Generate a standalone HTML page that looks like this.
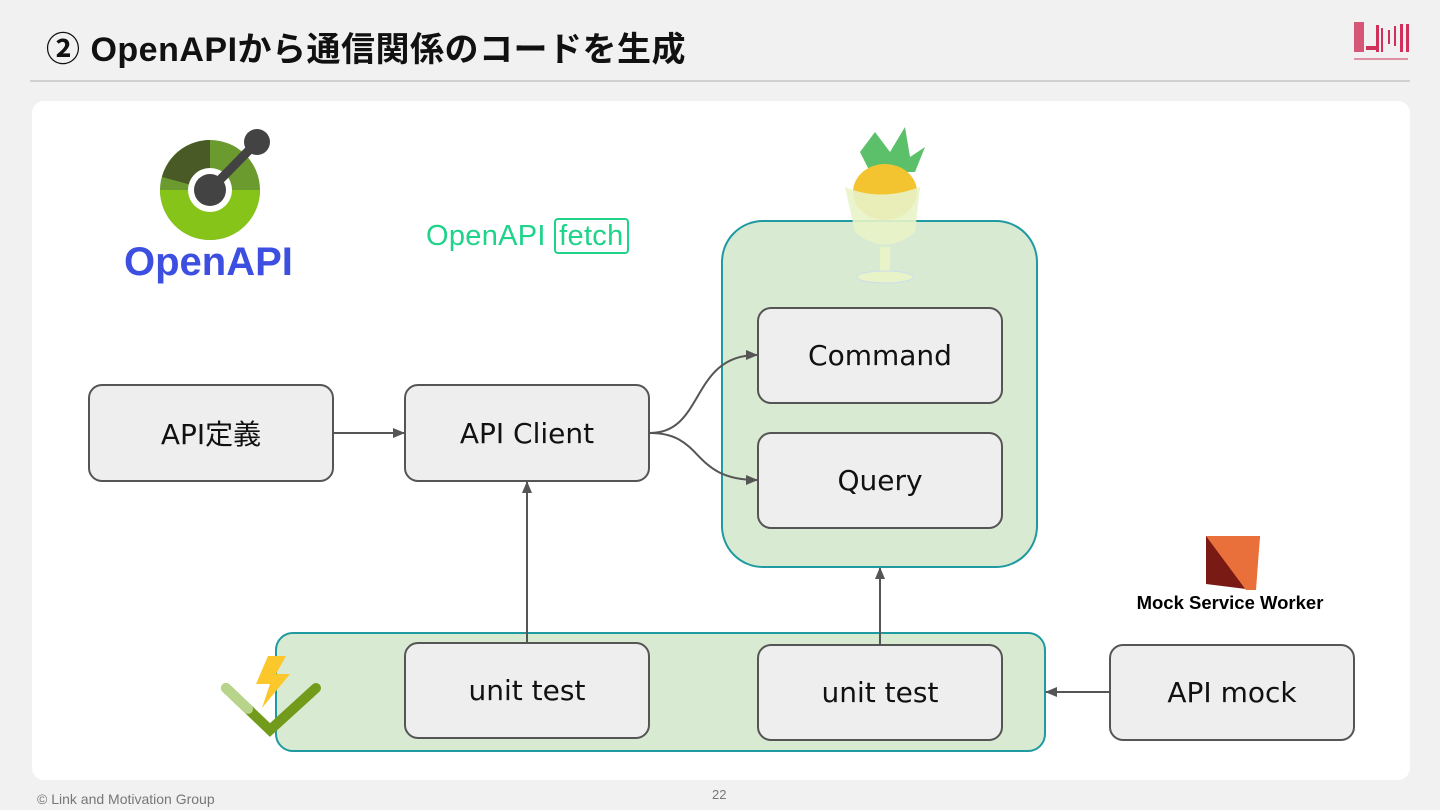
<!DOCTYPE html>
<html><head><meta charset="utf-8"><style>
body{margin:0;width:1440px;height:810px;background:#f1f1f1;overflow:hidden;font-family:"Liberation Sans","Noto Sans CJK JP",sans-serif;position:relative}
.t{position:absolute;left:46px;top:22px;font-size:34px;font-weight:bold;color:#111;letter-spacing:0.5px}
.box{position:absolute;background:#eeeeee;border:2px solid #555;border-radius:14px;box-sizing:border-box;display:flex;align-items:center;justify-content:center;font-size:28px;color:#111;font-family:"DejaVu Sans","Noto Sans CJK JP",sans-serif}
</style></head><body>
<div class="t">② OpenAPIから通信関係のコードを生成</div>
<div style="position:absolute;left:30px;top:80px;width:1380px;height:2px;background:#d0d0d0"></div>
<svg style="position:absolute;left:1350px;top:20px" width="62" height="48">
<g fill="#d0305a"><rect x="4" y="2" width="10" height="30" opacity=".8"/><rect x="16" y="26" width="12" height="4"/><rect x="26" y="5" width="3" height="27"/><rect x="31" y="8" width="2" height="24"/><rect x="38" y="10" width="2" height="14"/><rect x="44" y="6" width="2" height="20"/><rect x="50" y="4" width="3" height="28"/><rect x="56" y="4" width="3" height="28"/><rect x="4" y="38" width="54" height="2" opacity=".5"/></g></svg>
<div style="position:absolute;left:32px;top:101px;width:1378px;height:679px;background:#fff;border-radius:12px"></div>
<svg style="position:absolute;left:150px;top:125px" width="130" height="120">
<circle cx="60" cy="65" r="50" fill="#6b9a2f"/>
<path d="M10 65 A50 50 0 0 0 110 65 L60 65Z" fill="#86c41a"/>
<path d="M60 15 A50 50 0 0 0 12 52 L60 65Z" fill="#4a5a26"/>
<circle cx="60" cy="65" r="22" fill="#fff"/>
<line x1="60" y1="65" x2="107" y2="17" stroke="#434343" stroke-width="9"/>
<circle cx="107" cy="17" r="13" fill="#434343"/><circle cx="60" cy="65" r="16" fill="#434343"/>
</svg>
<div style="position:absolute;left:124px;top:240px;font-size:40px;font-weight:bold;color:#3d4fe0">OpenAPI</div>
<div style="position:absolute;left:426px;top:220px;font-size:29px;color:#1ed38a;letter-spacing:0.3px">OpenAPI <span style="border:2px solid #1ed38a;border-radius:4px;padding:0 3px">fetch</span></div>
<div style="position:absolute;left:721px;top:220px;width:317px;height:348px;background:#d9ead3;border:2px solid #1e9aa0;border-radius:42px;box-sizing:border-box"></div>
<div style="position:absolute;left:275px;top:632px;width:771px;height:120px;background:#d9ead3;border:2px solid #1e9aa0;border-radius:18px;box-sizing:border-box"></div>
<svg style="position:absolute;left:830px;top:122px" width="100" height="168">
<path d="M45 10 L60 30 L75 5 L80 35 L95 25 L85 50 L40 50 L30 30Z" fill="#5cbf6a"/>
<ellipse cx="55" cy="70" rx="32" ry="28" fill="#f4c430"/>
<path d="M15 65 Q50 80 90 65 L85 110 Q55 135 25 110Z" fill="#e8f3c8" opacity=".9"/>
<rect x="50" y="125" width="10" height="25" fill="#e8f3c8"/><ellipse cx="55" cy="155" rx="28" ry="6" fill="#e8f3c8" stroke="#cde" />
</svg>
<div class="box" style="left:88px;top:384px;width:246px;height:98px">API定義</div>
<div class="box" style="left:404px;top:384px;width:246px;height:98px">API Client</div>
<div class="box" style="left:757px;top:307px;width:246px;height:97px">Command</div>
<div class="box" style="left:757px;top:432px;width:246px;height:97px">Query</div>
<div class="box" style="left:404px;top:642px;width:246px;height:97px">unit test</div>
<div class="box" style="left:757px;top:644px;width:246px;height:97px">unit test</div>
<div class="box" style="left:1109px;top:644px;width:246px;height:97px">API mock</div>
<svg style="position:absolute;left:0;top:0" width="1440" height="810">
<defs><marker id="a" markerWidth="12" markerHeight="12" refX="11" refY="6" orient="auto" markerUnits="userSpaceOnUse"><path d="M0 1 L12 6 L0 11Z" fill="#555"/></marker></defs>
<g stroke="#555" stroke-width="2" fill="none" marker-end="url(#a)">
<line x1="334" y1="433" x2="404" y2="433"/>
<path d="M650 433 C705 433 690 355 757 355"/>
<path d="M650 433 C705 433 690 480 757 480"/>
<line x1="527" y1="642" x2="527" y2="482"/>
<line x1="880" y1="644" x2="880" y2="568"/>
<line x1="1109" y1="692" x2="1046" y2="692"/>
</g>
<path d="M226 688 L270 730 L316 688" stroke="#729b1b" stroke-width="10" fill="none" stroke-linecap="round"/>
<path d="M226 688 L248 709" stroke="#b8d48a" stroke-width="10" stroke-linecap="round"/>
<path d="M268 656 L256 684 L270 684 L262 708 L290 674 L276 674 L286 656Z" fill="#fcc72b"/>
<path d="M1206 536 L1260 536 L1254 590 L1206 584Z" fill="#7a1a14"/>
<path d="M1218 548 L1246 548 L1242 576Z" fill="#fff"/>
<path d="M1206 536 L1260 536 L1256 590 L1246 590 Z" fill="#e9703a"/>
<text x="1230" y="609" font-size="18.5" font-weight="bold" text-anchor="middle" font-family="Liberation Sans" fill="#000">Mock Service Worker</text>
</svg>
<div style="position:absolute;left:37px;top:791px;font-size:14px;color:#777">© Link and Motivation Group</div>
<div style="position:absolute;left:712px;top:787px;font-size:13px;color:#777">22</div>
</body></html>
